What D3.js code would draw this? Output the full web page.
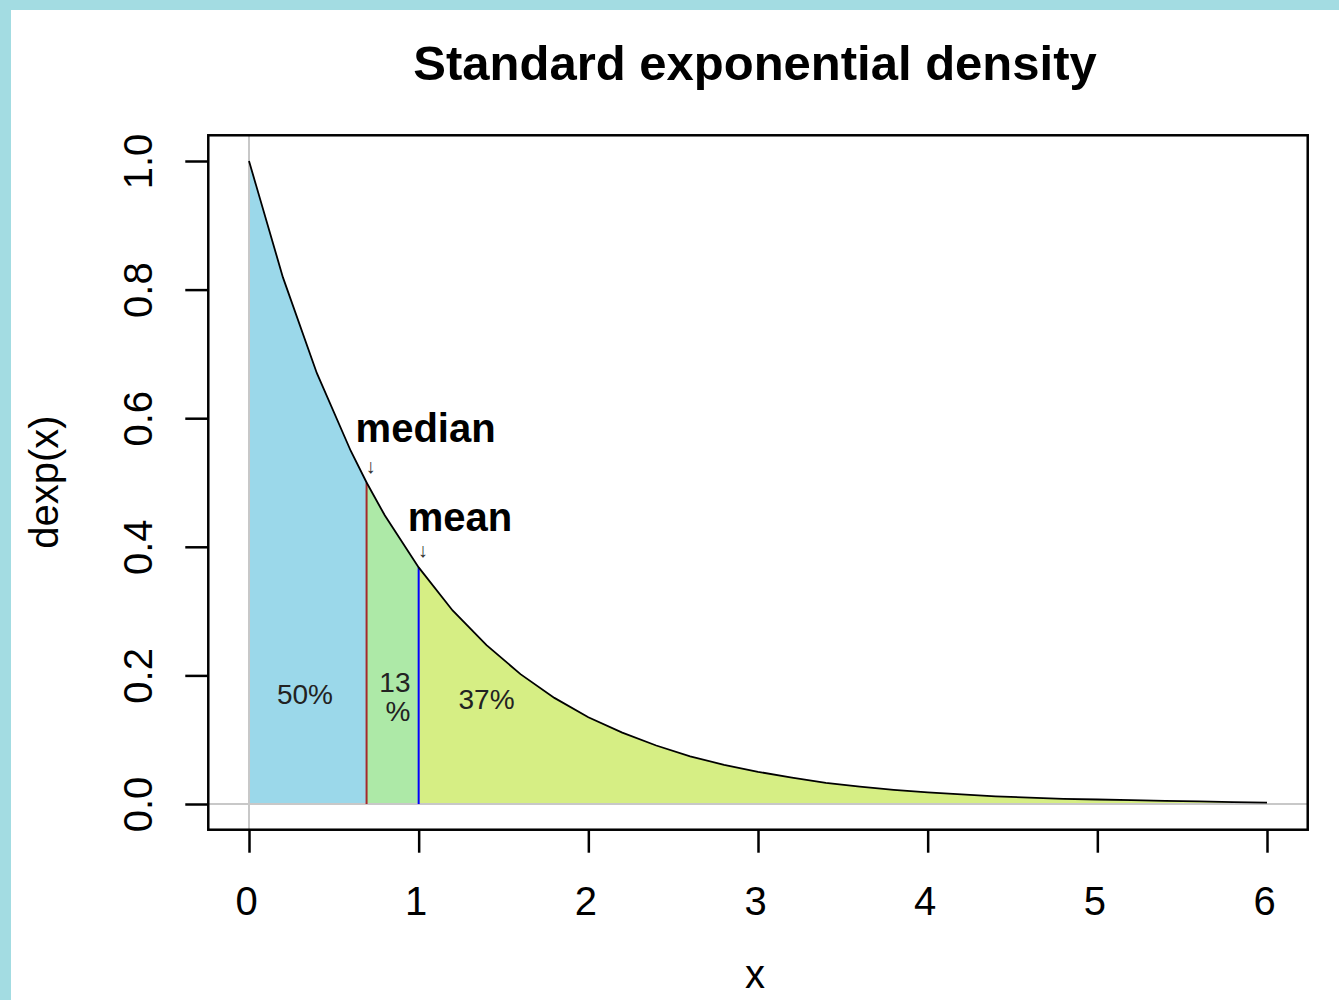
<!DOCTYPE html>
<html><head><meta charset="utf-8">
<script src="https://cdn.jsdelivr.net/npm/d3@7"></script>
<style>html,body{margin:0;padding:0;background:#fff}svg{display:block}text{font-family:"Liberation Sans",Arial,sans-serif}</style>
</head><body>
<svg id="c" width="1339" height="1000"></svg>
<script>
// Data
const xValues = [0,0.2,0.4,0.6,0.8,1.0,1.2,1.4,1.6,1.8,2.0,2.2,2.4,2.6,2.8,3.0,3.2,3.4,3.6,3.8,4.0,4.2,4.4,4.6,4.8,5.0,5.2,5.4,5.6,5.8,6.0];
const density = [1.000,0.819,0.670,0.549,0.449,0.368,0.301,0.247,0.202,0.165,0.135,0.111,0.091,0.074,0.061,0.050,0.041,0.033,0.027,0.022,0.018,0.015,0.012,0.010,0.008,0.007,0.006,0.005,0.004,0.003,0.002];
const markerNames = ["median","mean"];
const markerX = [0.693, 1.0];
const markerY = [0.500, 0.368];
const markerColors = ["#a52a2a","#0000ff"];
const regionStarts = [0, 0.693, 1.0];
const regionEnds = [0.693, 1.0, 6.0];
const regionLabels = [["50%"],["13","%"],["37%"]];
const regionLabelX = [0.33, 0.86, 1.40];
const regionLabelY = [0.17, 0.17, 0.163];
const regionColors = ["#9bd8ea","#ade9a7","#d6ee84"];
const xTicks = [0,1,2,3,4,5,6];
const yTicks = [0,0.2,0.4,0.6,0.8,1.0];
const yTickLabels = ["0.0","0.2","0.4","0.6","0.8","1.0"];

const svg = d3.select("#c");
svg.append("rect").attr("x",0).attr("y",0).attr("width",1339).attr("height",1000).attr("fill","#a3dce2");
svg.append("rect").attr("x",11).attr("y",10).attr("width",1328).attr("height",990).attr("fill","#ffffff");

const x = d3.scaleLinear().domain([0,6]).range([249,1267]);
const y = d3.scaleLinear().domain([0,1]).range([804,161]);
const x0 = x(-0.24), x1 = x(6.24), yb = y(-0.04), yt = y(1.04);

const pts = xValues.map((v,i)=>[v,density[i]]);
markerX.forEach((v,i)=>pts.push([v,markerY[i]]));
pts.sort((a,b)=>a[0]-b[0]);

regionStarts.forEach((s,i)=>{
  const e = regionEnds[i];
  const seg = pts.filter(p=>p[0]>=s-1e-9 && p[0]<=e+1e-9);
  const area = d3.area().x(d=>x(d[0])).y0(y(0)).y1(d=>y(d[1]));
  svg.append("path").attr("d",area(seg)).attr("fill",regionColors[i]);
});

svg.append("line").attr("x1",x0).attr("x2",x1).attr("y1",y(0)).attr("y2",y(0)).attr("stroke","#c8c8c8").attr("stroke-width",2);
svg.append("line").attr("x1",x(0)).attr("x2",x(0)).attr("y1",yt).attr("y2",yb).attr("stroke","#c8c8c8").attr("stroke-width",2);

markerX.forEach((v,i)=>{
  svg.append("line").attr("x1",x(v)).attr("x2",x(v)).attr("y1",y(0)).attr("y2",y(markerY[i])).attr("stroke",markerColors[i]).attr("stroke-width",2);
});

svg.append("path").attr("d",d3.line().x(d=>x(d[0])).y(d=>y(d[1]))(pts)).attr("fill","none").attr("stroke","#000").attr("stroke-width",1.8);

svg.append("rect").attr("x",x0).attr("y",yt).attr("width",x1-x0).attr("height",yb-yt).attr("fill","none").attr("stroke","#000").attr("stroke-width",2.5);

const xAxis = svg.append("g").attr("transform",`translate(0,${yb})`)
  .call(d3.axisBottom(x).tickValues(xTicks).tickSize(23).tickPadding(34).tickFormat(d3.format("d")));
const yAxis = svg.append("g").attr("transform",`translate(${x0},0)`)
  .call(d3.axisLeft(y).tickValues(yTicks).tickSize(23).tickFormat((d,i)=>yTickLabels[i]));
[xAxis,yAxis].forEach(a=>{
  a.select(".domain").remove();
  a.selectAll(".tick line").attr("stroke","#000").attr("stroke-width",2.5);
  a.selectAll("text").attr("fill","#000").style("font-size","40px");
});
xAxis.selectAll(".tick text").attr("dx","-3");
yAxis.selectAll(".tick text").attr("transform","translate(-70,0) rotate(-90)").attr("text-anchor","middle").attr("x",0).attr("dy","0.35em").attr("dx",0);

regionLabels.forEach((lines,i)=>{
  const cx = x(regionLabelX[i]);
  const t = svg.append("text").attr("x",cx).attr("y",y(regionLabelY[i])).attr("text-anchor","middle").style("font-size","28px").attr("fill","#222");
  lines.forEach((l,j)=>t.append("tspan").attr("x",cx+(j===1?3:0)).attr("dy",j===0?(lines.length>1?"-0.1em":"0.35em"):"1.05em").text(l));
});

const labelOffsets = [41, 36];
markerNames.forEach((n,i)=>{
  const px = x(markerX[i]), py = y(markerY[i]);
  svg.append("text").attr("x",px-11).attr("y",py-labelOffsets[i]).style("font-size","40px").style("font-weight","bold").attr("fill","#000").text(n);
  svg.append("text").attr("x",px+4).attr("y",py-10).attr("text-anchor","middle").style("font-size","20px").attr("fill","#333").text("↓");
});

svg.append("text").attr("x",755).attr("y",80).attr("text-anchor","middle").style("font-size","49px").style("font-weight","bold").attr("fill","#000").text("Standard exponential density");
svg.append("text").attr("x",755).attr("y",988).attr("text-anchor","middle").style("font-size","40px").attr("fill","#000").text("x");
svg.append("text").attr("transform","translate(58,482) rotate(-90)").attr("text-anchor","middle").style("font-size","40px").attr("fill","#000").text("dexp(x)");
</script>
</body></html>
